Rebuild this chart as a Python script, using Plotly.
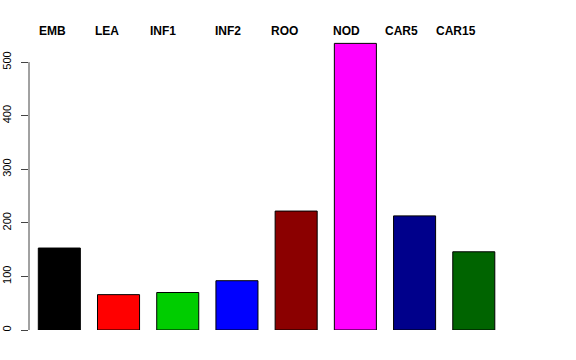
import plotly.graph_objects as go

categories = ["EMB", "LEA", "INF1", "INF2", "ROO", "NOD", "CAR5", "CAR15"]
values = [153, 66, 70, 92, 222, 535, 213, 146]
colors = ["#000000", "#FF0000", "#00CD00", "#0000FF", "#8B0000", "#FF00FF", "#00008B", "#006400"]
label_shift = [-7, -11.5, -14.5, -9, -11.5, -8.5, -13.5, -18]
tick_vals = [0, 100, 200, 300, 400, 500]

positions = list(range(len(categories)))

fig = go.Figure()
fig.add_trace(go.Bar(
    x=positions, y=values, width=0.71,
    marker=dict(color=colors, line=dict(color="#000000", width=1)),
    hoverinfo="skip",
))

for i, (name, dx) in enumerate(zip(categories, label_shift)):
    fig.add_annotation(
        x=positions[i], y=1, xref="x", yref="paper",
        text="<b>%s</b>" % name, showarrow=False,
        xanchor="center", yanchor="middle", xshift=dx, yshift=-1,
        font=dict(family="Liberation Sans, Arial, sans-serif", size=12, color="#000000"),
    )

# y axis line spanning only the tick range, like R's axis()
fig.add_shape(type="line", xref="paper", yref="y", x0=0, x1=0,
              y0=tick_vals[0], y1=tick_vals[-1], line=dict(color="#444444", width=1))

fig.update_layout(
    width=576, height=360,
    margin=dict(l=29, r=43, t=30, b=30, autoexpand=False),
    paper_bgcolor="white", plot_bgcolor="white",
    showlegend=False,
    bargap=0,
    hovermode=False,
    xaxis=dict(range=[-0.512, 8.0], showticklabels=False, showgrid=False,
               zeroline=False, showline=False, ticks="", automargin=False),
    yaxis=dict(range=[0, 560], tickvals=tick_vals, ticktext=[str(v) for v in tick_vals],
               ticks="outside", ticklen=7, tickcolor="#444444", tickwidth=1,
               tickangle=-90, showgrid=False, zeroline=False, showline=False,
               ticklabelstandoff=6, automargin=False,
               tickfont=dict(family="Liberation Sans, Arial, sans-serif", size=11, color="#000000")),
)

fig.write_html("out.html", config={"displayModeBar": False, "staticPlot": True},
               post_script="document.body.style.margin='0';document.body.style.overflow='hidden';")
